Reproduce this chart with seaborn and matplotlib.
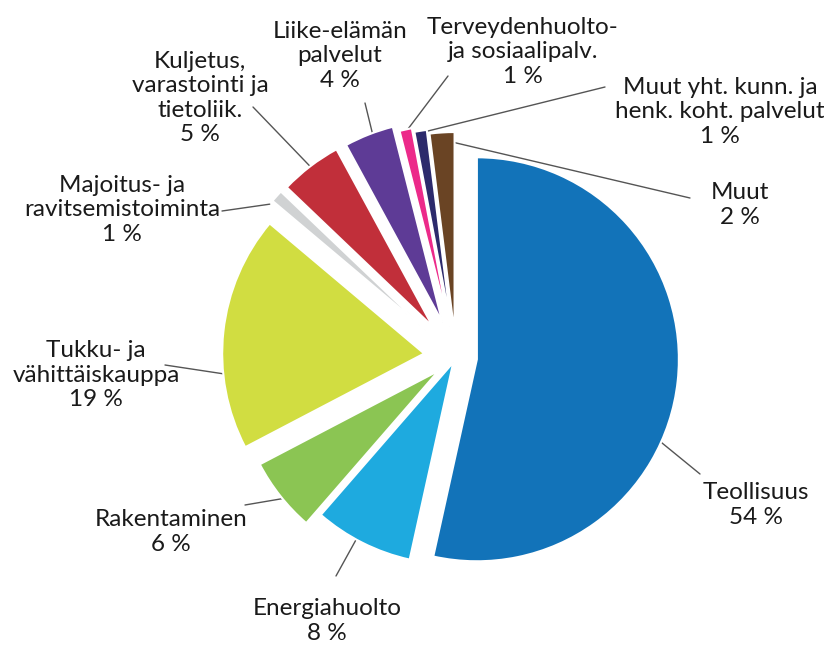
import numpy as np
import matplotlib
matplotlib.use("Agg")
import matplotlib.pyplot as plt
import seaborn as sns

# toimialat ja osuudet (%)
sectors = ["Teollisuus", "Energiahuolto", "Rakentaminen",
           "Tukku- ja\nvähittäiskauppa", "Majoitus- ja\nravitsemistoiminta",
           "Kuljetus,\nvarastointi ja\ntietoliik.", "Liike-elämän\npalvelut",
           "Terveydenhuolto-\nja sosiaalipalv.", "Muut yht. kunn. ja\nhenk. koht. palvelut",
           "Muut"]
shares = [54, 8, 6, 19, 1, 5, 4, 1, 1, 2]
colors = ["#1273b9", "#1eaadf", "#8bc553", "#d1dd41", "#d0d2d3",
          "#c12f3a", "#5e3b96", "#ec2a8a", "#2c2a6c", "#6a4424"]

sns.set_theme(style="white")
plt.rcParams["font.family"] = ["Lato", "DejaVu Sans"]

W, H = 824, 647
# layout in pixels (y down)
center = (456, 357)
radius = 202
explode_px = [21, 6, 22, 32, 39, 38, 37, 31, 27, 23]
label_xy = [(756, 505), (327, 621), (171, 532), (96, 375), (122, 210),
            (200, 98), (340, 56), (523, 52), (720, 112), (740, 205)]
line_end = [(700, 474), (336, 576), (245, 505), (165, 365), (222, 211),
            (253, 107), (365, 103), (448, 76), (605, 87), (690, 198)]
angle_off = [18, 2, -1, -12, -3, 0, 1, 0, 0, 3]
line_k = [1.0, 0.97, 1.0, 1.0, 1.0, 1.0, 0.99, 0.99, 0.99, 0.95]

fig = plt.figure(figsize=(W / 100, H / 100), dpi=100)
ax = fig.add_axes([0, 0, 1, 1])

wedges, _ = ax.pie(shares, colors=colors, startangle=90, counterclock=False,
                   explode=explode_px, center=(center[0], H - center[1]),
                   radius=radius, wedgeprops=dict(edgecolor="white", linewidth=1.5))

ax.set_xlim(0, W)
ax.set_ylim(0, H)
ax.set_aspect("equal")
ax.axis("off")

for i, w in enumerate(wedges):
    mid = np.deg2rad((w.theta1 + w.theta2) / 2 - angle_off[i])
    cx, cy = w.center
    sx = cx + w.r * line_k[i] * np.cos(mid)
    sy = cy + w.r * line_k[i] * np.sin(mid)
    ex, ey = line_end[i]
    ax.plot([sx, ex], [sy, H - ey], color="#555555", lw=1.0, zorder=0.5)
    lx, ly = label_xy[i]
    ax.text(lx, H - ly, f"{sectors[i]}\n{shares[i]} %", ha="center", va="center",
            multialignment="center", fontsize=17.5, color="#1a1a1a", linespacing=1.2)

fig.savefig("out.png", dpi=100)
